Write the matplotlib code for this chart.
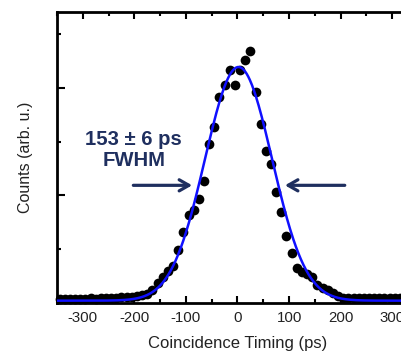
import numpy as np
import matplotlib
matplotlib.use("Agg")
import matplotlib.pyplot as plt
from matplotlib.ticker import MultipleLocator

plt.rcParams['font.family'] = ['Liberation Sans', 'DejaVu Sans']
plt.rcParams['axes.unicode_minus'] = False

# Measured coincidence counts (arb. u.) vs timing (ps)
timing_ps = [-345, -335, -325, -315, -305, -295, -285, -275, -265, -255,
             -245, -235, -225, -215, -205, -195, -185, -175, -165, -155,
             -145, -135, -125, -115, -105, -95, -85, -75, -65, -55,
             -45, -35, -25, -15, -5, 5, 15, 25, 35, 45,
             55, 65, 75, 85, 95, 105, 115, 125, 135, 145,
             155, 165, 175, 185, 195, 205, 215, 225, 235, 245,
             255, 265, 275, 285, 295, 305, 315, 325, 335, 345]
counts = [30, 32, 35, 33, 36, 38, 40, 38, 42, 45,
          46, 48, 52, 54, 56, 62, 70, 85, 120, 186,
          235, 298, 344, 493, 660, 818, 865, 967, 1135, 1479,
          1637, 1916, 2028, 2167, 2028, 2167, 2260, 2344, 1963, 1665,
          1414, 1293, 1033, 847, 623, 465, 326, 288, 265, 242,
          167, 140, 121, 93, 65, 48, 44, 42, 42, 41,
          42, 41, 42, 43, 42, 41, 42, 42, 41, 42]

# Gaussian fit parameters
fit_center = 2.0
fit_fwhm = 153.0
fit_amp = 2176.0
fit_offset = 19.0

x_ticks = [-300, -200, -100, 0, 100, 200, 300]
x_tick_labels = ['-300', '-200', '-100', '0', '100', '200', '300']
annot_text = '153 \u00b1 6 ps\nFWHM'

navy = '#1f2f5f'

fig = plt.figure(figsize=(4.01, 3.52), dpi=100)
ax = fig.add_axes([57 / 401, 49.3 / 352, 361 / 401, 290.7 / 352])

xf = np.linspace(-350, 350, 701)
sigma = fit_fwhm / (2 * np.sqrt(2 * np.log(2)))
yf = fit_offset + fit_amp * np.exp(-0.5 * ((xf - fit_center) / sigma) ** 2)

ax.plot(timing_ps, counts, 'o', color='black', markersize=7,
        markeredgewidth=0, zorder=2, clip_on=False)
ax.plot(xf, yf, color='#1010ff', lw=1.8, zorder=3)

ax.set_xlim(-350, 350)
ax.set_ylim(0, 2707)

ax.set_xticks(x_ticks)
ax.set_xticklabels(x_tick_labels)
ax.xaxis.set_minor_locator(MultipleLocator(50))
ax.yaxis.set_major_locator(MultipleLocator(1000))
ax.yaxis.set_minor_locator(MultipleLocator(500))
ax.set_yticklabels([])

ax.tick_params(axis='both', which='both', direction='in', top=True,
               right=True, width=1.5, colors='black', labelcolor='#222222',
               labelsize=10.8)
ax.tick_params(axis='x', which='major', length=5, pad=6)
ax.tick_params(axis='x', which='minor', length=3)
ax.tick_params(axis='y', which='major', length=6)
ax.tick_params(axis='y', which='minor', length=3)
for s in ax.spines.values():
    s.set_linewidth(2.0)

ax.set_xlabel('Coincidence Timing (ps)', fontsize=12, color='#222222', labelpad=8)
ax.set_ylabel('Counts (arb. u.)', fontsize=11.5, color='#222222', labelpad=14)

ax.text(-201, 1419, annot_text, ha='center', va='center', fontsize=14.6,
        fontweight='bold', color=navy, linespacing=1.15)

arrow_kw = dict(arrowstyle='->,head_length=0.7,head_width=0.4',
                color=navy, lw=2.3, shrinkA=0, shrinkB=0)
ax.annotate('', xy=(-88, 1093), xytext=(-202, 1093), arrowprops=arrow_kw)
ax.annotate('', xy=(92, 1093), xytext=(208, 1093), arrowprops=arrow_kw)

fig.savefig('out.png', dpi=100)
